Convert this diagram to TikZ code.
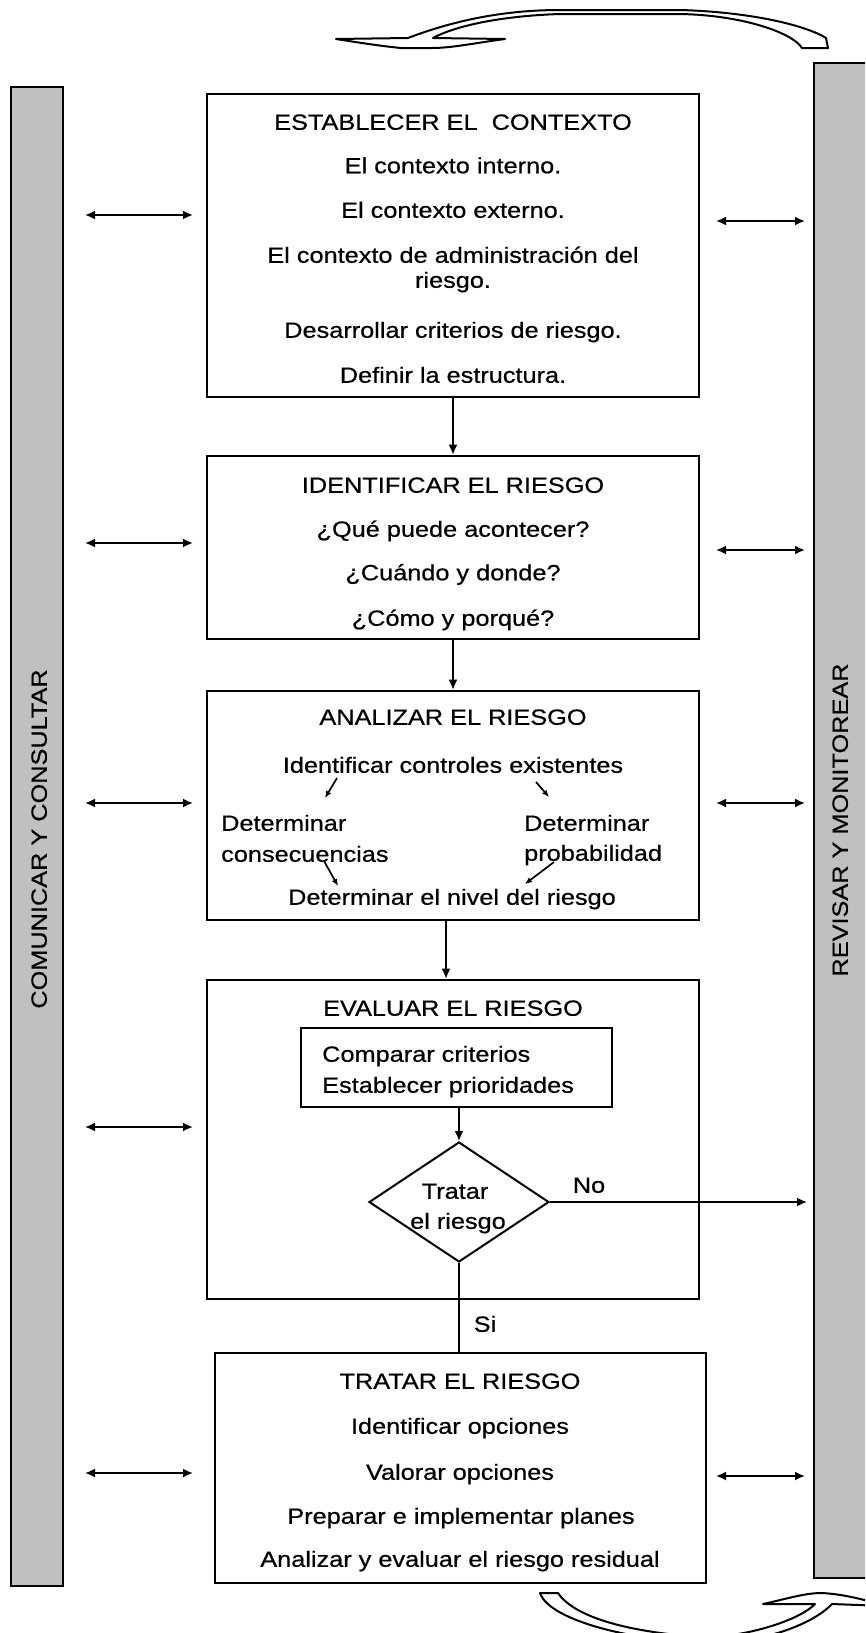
\documentclass[tikz,border=0pt]{standalone}
\usepackage{fontspec}
\setmainfont{Liberation Sans}[FakeStretch=1.15,FakeBold=0.6]
\usetikzlibrary{arrows.meta,shapes.geometric}
\definecolor{barfill}{HTML}{C0C0C0}
\begin{document}
\begin{tikzpicture}[x=1pt,y=-1pt,
  font=\fontsize{22}{25}\selectfont,
  stagebox/.style={draw, line width=2.6pt, inner sep=0pt},
  txt/.style={inner sep=0pt, text height=20pt, text depth=2.5pt},
  sidebar/.style={draw, fill=barfill, line width=2pt, inner sep=0pt},
  link/.style={line width=1.8pt, -{Latex[length=10pt,width=9pt]}},
  dlink/.style={line width=1.8pt, {Latex[length=10pt,width=9pt]}-{Latex[length=10pt,width=9pt]}},
  minilink/.style={line width=1.7pt, -{Latex[length=7pt,width=6pt]}},
  bentarrow/.style={draw, fill=white, line width=2pt, line join=round}]

% page frame
\useasboundingbox (0,0) rectangle (865,1633);
\clip (0,0) rectangle (865,1633);
\fill[white] (0,0) rectangle (865,1633);

% side bars
\node[sidebar, minimum width=52pt, minimum height=1499pt] (barL) at (37,836.5) {};
\node[sidebar, minimum width=71pt, minimum height=1515pt] (barR) at (849.5,820.5) {};
\node[txt, rotate=90] (barLt) at (38,839) {COMUNICAR Y CONSULTAR};
\node[txt, rotate=90] (barRt) at (839,820) {REVISAR Y MONITOREAR};

% stage boxes
\node[stagebox, minimum width=492pt, minimum height=303pt] (b1) at (453,245.5) {};
\node[stagebox, minimum width=492pt, minimum height=183pt] (b2) at (453,547.5) {};
\node[stagebox, minimum width=492pt, minimum height=229pt] (b3) at (453,805.5) {};
\node[stagebox, minimum width=492pt, minimum height=319pt] (b4) at (453,1139.5) {};
\node[stagebox, minimum width=491pt, minimum height=230pt] (b5) at (460.5,1468) {};

% establish the context
\node[txt] (b1t0) at (453,121) {ESTABLECER EL\ \ CONTEXTO};
\node[txt] (b1t1) at (453,164.5) {El contexto interno.};
\node[txt] (b1t2) at (453,209) {El contexto externo.};
\node[txt] (b1t3) at (453,254) {El contexto de administración del};
\node[txt] (b1t4) at (453,279) {riesgo.};
\node[txt] (b1t5) at (453,329) {Desarrollar criterios de riesgo.};
\node[txt] (b1t6) at (453,374) {Definir la estructura.};

% identify the risk
\node[txt] (b2t0) at (453,484) {IDENTIFICAR EL RIESGO};
\node[txt] (b2t1) at (453,528) {¿Qué puede acontecer?};
\node[txt] (b2t2) at (453,571.5) {¿Cuándo y donde?};
\node[txt] (b2t3) at (453,617) {¿Cómo y porqué?};

% analyse the risk
\node[txt] (b3t0) at (453,716) {ANALIZAR EL RIESGO};
\node[txt] (b3t1) at (453,764) {Identificar controles existentes};
\node[txt, anchor=west] (b3t2) at (221,822) {Determinar};
\node[txt, anchor=west] (b3t3) at (221,853) {consecuencias};
\node[txt, anchor=west] (b3t4) at (524,822) {Determinar};
\node[txt, anchor=west] (b3t5) at (524,852) {probabilidad};
\node[txt] (b3t6) at (452,896) {Determinar el nivel del riesgo};

\coordinate (ulA) at (337,778); \coordinate (ulB) at (325,798);
\coordinate (urA) at (536,782); \coordinate (urB) at (549,797);
\coordinate (llA) at (324,861); \coordinate (llB) at (338,886);
\coordinate (lrA) at (554,862); \coordinate (lrB) at (525,884);
\draw[minilink] (ulA) -- (ulB);
\draw[minilink] (urA) -- (urB);
\draw[minilink] (llA) -- (llB);
\draw[minilink] (lrA) -- (lrB);

% evaluate the risk
\node[txt] (b4t0) at (453,1007) {EVALUAR EL RIESGO};
\node[draw, line width=2.4pt, minimum width=311pt, minimum height=79pt] (cmp) at (456.5,1067.5) {};
\node[txt, anchor=west] (cmp1) at (322,1053) {Comparar criterios};
\node[txt, anchor=west] (cmp2) at (322,1084) {Establecer prioridades};
\node[draw, diamond, aspect=1.5, line width=2pt, inner sep=0pt,
      minimum width=180pt, minimum height=120pt] (dia) at (459,1202) {};
\node[txt] (dia1) at (455,1190) {Tratar};
\node[txt] (dia2) at (458,1220) {el riesgo};
\node[txt] (lblNo) at (589,1184) {No};
\node[txt] (lblSi) at (485,1323) {Si};

% treat the risk
\node[txt] (b5t0) at (460,1380) {TRATAR EL RIESGO};
\node[txt] (b5t1) at (460,1425) {Identificar opciones};
\node[txt] (b5t2) at (460,1471) {Valorar opciones};
\node[txt] (b5t3) at (461,1515) {Preparar e implementar planes};
\node[txt] (b5t4) at (460,1558) {Analizar y evaluar el riesgo residual};

% flow between stages
\draw[link] (b1.south) -- (b2.north);
\draw[link] (b2.south) -- (b3.north);
\draw[link] ([xshift=-7pt]b3.south) -- ([xshift=-7pt]b4.north);
\draw[link] (cmp.south -| dia.north) -- (dia.north);
\draw[line width=1.8pt] (dia.south) -- (b5.north -| dia.south);
\coordinate (noEnd) at (807,1204);
\draw[link] (dia.east) -- (dia.east -| noEnd);

% links with the side bars
\foreach \i/\yl/\yr in {1/215/221, 2/543/550, 3/803/803, 5/1473/1476}{
  \coordinate (L\i a) at (85,\yl);  \coordinate (L\i b) at (193,\yl);
  \coordinate (R\i a) at (716,\yr); \coordinate (R\i b) at (805,\yr);
  \draw[dlink] (L\i a) -- (L\i b);
  \draw[dlink] (R\i a) -- (R\i b);
}
\coordinate (L4a) at (85,1127); \coordinate (L4b) at (193,1127);
\draw[dlink] (L4a) -- (L4b);

% curved arrow over the top
\path[bentarrow] (336,39) -- (408,38)
  .. controls (450,22) and (500,10) .. (560,10) -- (680,10)
  .. controls (750,12) and (805,25) .. (826,38) -- (828,48) -- (802,48)
  .. controls (792,32) and (740,15) .. (680,14) -- (560,14)
  .. controls (500,16) and (455,26) .. (433,38) -- (505,39)
  .. controls (475,43) and (452,48) .. (432,48) -- (401,48)
  .. controls (380,46) and (355,42) .. cycle;

% curved arrow along the bottom
\path[bentarrow] (540,1593) -- (558,1593)
  .. controls (575,1618) and (630,1632) .. (700,1637)
  .. controls (745,1638) and (800,1620) .. (815,1604) -- (763,1604)
  .. controls (790,1598) and (805,1593) .. (822,1593)
  .. controls (840,1594) and (860,1598) .. (885,1606) -- (832,1604)
  .. controls (815,1622) and (770,1642) .. (710,1643)
  .. controls (640,1642) and (550,1622) .. cycle;

\end{tikzpicture}
\end{document}
